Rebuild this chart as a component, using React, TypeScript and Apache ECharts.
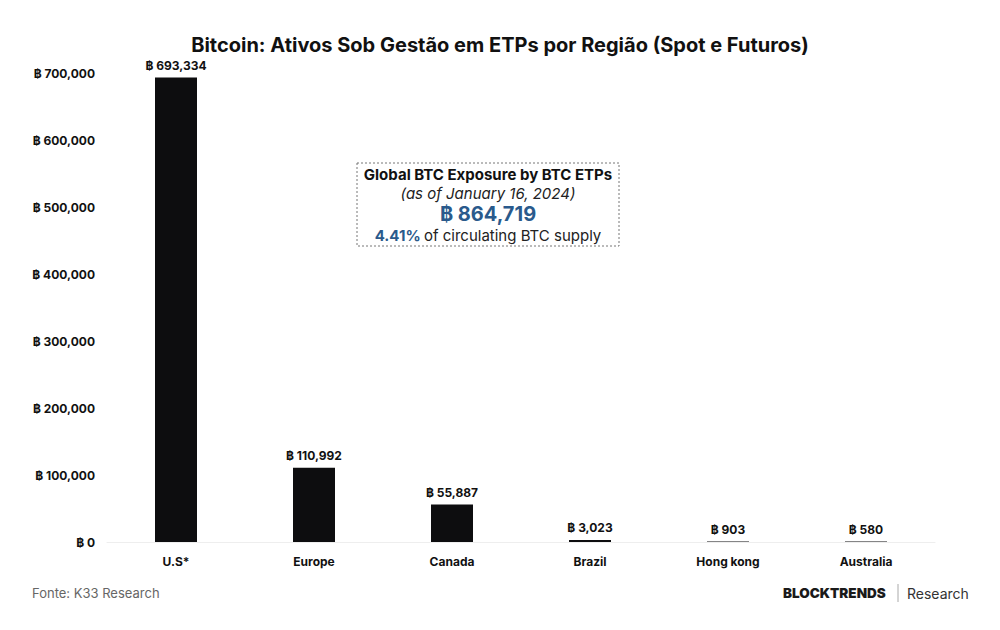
import React, { useEffect, useRef } from "react";
import * as echarts from "echarts";

const categories = ["U.S*", "Europe", "Canada", "Brazil", "Hong kong", "Australia"];
const values = [693334, 110992, 55887, 3023, 903, 580];
const yTicks = [0, 100000, 200000, 300000, 400000, 500000, 600000, 700000];

const fmt = (v: number) => "฿ " + v.toLocaleString("en-US");
const FONT = "Inter, 'Noto Sans', sans-serif";

export default function App() {
  const ref = useRef<HTMLDivElement>(null);
  useEffect(() => {
    const chart = echarts.init(ref.current!, null, { renderer: "svg" });
    chart.setOption({
      animation: false,
      backgroundColor: "#ffffff",
      textStyle: { fontFamily: FONT },
      title: {
        text: "Bitcoin: Ativos Sob Gestão em ETPs por Região (Spot e Futuros)",
        left: "center",
        top: 30,
        textStyle: { fontFamily: FONT, fontSize: 20, fontWeight: "bold", color: "#111" },
      },
      grid: { left: 107, right: 65, top: 73, bottom: 88 },
      xAxis: {
        type: "category",
        data: categories,
        axisLine: { show: true, lineStyle: { color: "#eeeeee", width: 1 } },
        axisTick: { show: false },
        axisLabel: { fontFamily: FONT, fontSize: 12, fontWeight: "bold", color: "#111", margin: 13 },
      },
      yAxis: {
        type: "value",
        min: 0,
        max: yTicks[yTicks.length - 1],
        interval: 100000,
        splitLine: { show: false },
        axisLine: { show: false },
        axisTick: { show: false },
        axisLabel: {
          fontFamily: FONT,
          fontSize: 12,
          fontWeight: "bold",
          color: "#111",
          margin: 12,
          formatter: (v: number) => fmt(v),
        },
      },
      series: [
        {
          type: "bar",
          data: values,
          barWidth: 42,
          itemStyle: { color: "#0d0d0f" },
          label: {
            show: true,
            position: "top",
            distance: 6,
            fontFamily: FONT,
            fontSize: 12,
            fontWeight: "bold",
            color: "#111",
            formatter: (p: any) => fmt(p.value),
          },
        },
      ],
      graphic: [
        {
          type: "rect",
          shape: { x: 357, y: 163, width: 262, height: 83 },
          style: { fill: "#ffffff", stroke: "#777", lineWidth: 1, lineDash: [2, 2] },
        },
        {
          type: "text",
          x: 488,
          y: 174,
          style: {
            text: "Global BTC Exposure by BTC ETPs",
            fontFamily: FONT,
            fontSize: 15,
            fontWeight: "bold",
            fill: "#111",
            align: "center",
            verticalAlign: "middle",
          },
        },
        {
          type: "text",
          x: 488,
          y: 193,
          style: {
            text: "(as of January 16, 2024)",
            fontFamily: FONT,
            fontSize: 15,
            fontStyle: "italic",
            fill: "#222",
            align: "center",
            verticalAlign: "middle",
          },
        },
        {
          type: "text",
          x: 488,
          y: 214,
          style: {
            text: "฿ 864,719",
            fontFamily: FONT,
            fontSize: 20,
            fontWeight: "bold",
            fill: "#2a5a8c",
            align: "center",
            verticalAlign: "middle",
          },
        },
        {
          type: "text",
          x: 488,
          y: 235,
          style: {
            text: "{b|4.41%} {n|of circulating BTC supply}",
            align: "center",
            verticalAlign: "middle",
            rich: {
              b: { fontFamily: FONT, fontSize: 15, fontWeight: "bold", fill: "#2a5a8c", color: "#2a5a8c" },
              n: { fontFamily: FONT, fontSize: 15, fill: "#222", color: "#222" },
            },
          },
        },
        {
          type: "text",
          x: 32,
          y: 593,
          style: {
            text: "Fonte: K33 Research",
            fontFamily: FONT,
            fontSize: 13,
            fill: "#666",
            verticalAlign: "middle",
          },
        },
        {
          type: "text",
          x: 783,
          y: 593,
          style: {
            text: "BLOCKTRENDS",
            fontFamily: FONT,
            fontSize: 13.5,
            fontWeight: 900,
            fill: "#1a1a1a",
            verticalAlign: "middle",
          },
        },
        {
          type: "line",
          shape: { x1: 898, y1: 584, x2: 898, y2: 602 },
          style: { stroke: "#aaa", lineWidth: 1 },
        },
        {
          type: "text",
          x: 907,
          y: 593,
          style: {
            text: "Research",
            fontFamily: FONT,
            fontSize: 14,
            fill: "#333",
            verticalAlign: "middle",
          },
        },
      ],
    });
    return () => chart.dispose();
  }, []);
  return <div ref={ref} style={{ width: 1000, height: 630, position: "absolute", left: 0, top: 0 }} />;
}
